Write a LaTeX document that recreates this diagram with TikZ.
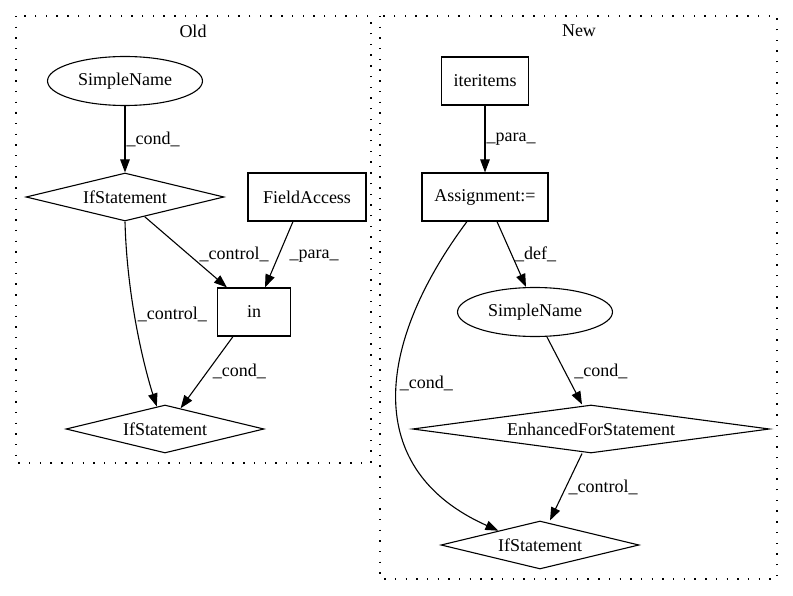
\documentclass[tikz,border=0pt]{standalone}
\usepackage{fontspec}
\setmainfont{Liberation Serif}
\usetikzlibrary{shapes.geometric,arrows.meta}
\begin{document}
\begin{tikzpicture}[x=1pt,y=-1pt,
  every node/.style={font=\fontsize{18}{21}\selectfont},
  cluster/.style={draw,line width=1.3pt,dash pattern=on 1.4pt off 9.3pt},
  boxnode/.style={draw,rectangle,inner sep=0pt,line width=1.1pt,minimum height=48pt},
  ellnode/.style={draw,ellipse,inner sep=0pt,minimum width=155pt,minimum height=49pt,line width=1.1pt},
  dianode/.style={draw,diamond,aspect=6,inner sep=0pt,line width=1.1pt,minimum height=48pt},
  edge/.style={draw,line width=1.1pt,-{Triangle[length=13pt,width=9.5pt]}},
  lbl/.style={inner sep=1pt,anchor=west}]
\useasboundingbox (0,0) rectangle (793,596);
% clusters
\draw[cluster] (16,16) rectangle (371,463);
\node (oldlbl) at (193,31) {Old};
\draw[cluster] (380,16) rectangle (777,579);
\node (newlbl) at (579,31) {New};
% Old nodes
\node[ellnode] (osn) at (125,81) {SimpleName};
\node[dianode,minimum width=198pt] (oif1) at (125,197) {IfStatement};
\node[boxnode,minimum width=118pt] (ofa) at (307,197) {FieldAccess};
\node[boxnode,minimum width=73pt] (oin) at (254,312) {in};
\node[dianode,minimum width=198pt] (oif2) at (165,429) {IfStatement};
% Old edges
\draw[edge] (osn) -- (oif1) node[lbl,pos=0.5] {\_cond\_};
\draw[edge] (oif1.-45) -- ([xshift=10pt]oin.north west) node[lbl,pos=0.54,xshift=9pt] {\_control\_};
\draw[edge] ([xshift=-14pt]ofa.south) -- ([xshift=11pt]oin.north) node[lbl,pos=0.53,xshift=10pt] {\_para\_};
\draw[edge] (oif1.south) .. controls (127,300) and (145,370) .. (oif2.110) node[lbl,pos=0.42,xshift=2pt] {\_control\_};
\draw[edge] ([xshift=-21pt]oin.south) -- (oif2.53.5) node[lbl,pos=0.49,xshift=4pt] {\_cond\_};
% New nodes
\node[boxnode,minimum width=87pt] (nit) at (485,81) {iteritems};
\node[boxnode,minimum width=126pt] (nas) at (485,197) {Assignment:=};
\node[ellnode] (nsn) at (535,312) {SimpleName};
\node[dianode,minimum width=357pt] (nef) at (591,429) {EnhancedForStatement};
\node[dianode,minimum width=198pt] (nif) at (540,545) {IfStatement};
% New edges
\draw[edge] (nit) -- (nas) node[lbl,pos=0.5] {\_para\_};
\draw[edge] ([xshift=12pt]nas.south) -- ([xshift=-9pt]nsn.north) node[lbl,pos=0.5,xshift=2pt] {\_def\_};
\draw[edge] ([xshift=-18pt]nas.south) .. controls (375,345) and (362,470) .. (nif.161) node[lbl,pos=0.45,xshift=1pt] {\_cond\_};
\draw[edge] ([xshift=12pt]nsn.south) -- ([xshift=-9pt]nef.north) node[lbl,pos=0.51,xshift=8pt] {\_cond\_};
\draw[edge] ([xshift=-9pt]nef.south) -- ([xshift=10pt]nif.north) node[lbl,pos=0.5,xshift=1pt] {\_control\_};
\end{tikzpicture}
\end{document}
